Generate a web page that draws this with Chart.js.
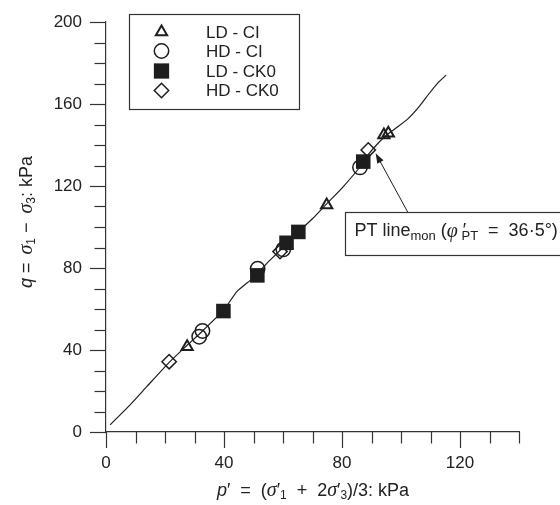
<!DOCTYPE html>
<html>
<head>
<meta charset="utf-8">
<script src="https://cdn.jsdelivr.net/npm/chart.js@4.4.0/dist/chart.umd.min.js"></script>
<style>
  html, body { margin: 0; padding: 0; background: #fff; }
</style>
</head>
<body>
<canvas id="chart" width="560" height="505"></canvas>
<script>
// values, p' and q in kPa
const ldCiP = [27.5, 74.8, 94.2, 95.7];
const ldCiQ = [41.6, 110.7, 144.9, 145.7];
const hdCiP = [31.6, 32.7, 51.4, 60.1, 86.1];
const hdCiQ = [46.5, 49.3, 79.6, 89.1, 129.1];
const ldCk0P = [39.8, 51.3, 61.2, 65.2, 87.2];
const ldCk0Q = [59.0, 76.4, 92.3, 97.6, 131.9];
const hdCk0P = [21.4, 59.0, 88.9];
const hdCk0Q = [34.3, 88.0, 137.6];

// the PT line (monotonic test path)
const lineP = [1.4, 8, 13.8, 21.4, 27.5, 32, 39.8, 44.3, 49.9, 55, 60, 65.2, 70, 74.8, 80, 86.5, 89, 92, 95.1, 99, 102.5, 106, 109.5, 112.5, 115.3];
const lineQ = [3.5, 13, 22.1, 34, 42.3, 48.3, 59.3, 68.4, 75.2, 83, 90, 97.6, 104, 111.3, 119, 130, 135.5, 140.5, 144.9, 149, 153, 158.5, 165, 170.3, 174.1];

const seriesNames = ['LD - CI', 'HD - CI', 'LD - CK0', 'HD - CK0'];
const xLabelTicks = [0, 40, 80, 120];
const yLabelTicks = [0, 40, 80, 120, 160, 200];

// annotation: arrow tip on the line, label box below it
const arrowTip = [91.4, 136];
const arrowTail = [102.3, 107.2];
const noteAnchor = [81, 107.2];

const ink = '#1e1e1e';
const axisInk = '#333';
const sans = '"Liberation Sans", Arial, sans-serif';
const serif = '"Liberation Serif", "Times New Roman", serif';

Chart.defaults.font.family = sans;
Chart.defaults.color = '#222';

function toPoints(xs, ys) {
    return xs.map((x, i) => ({ x: x, y: ys[i] }));
}

function richWidth(ctx, parts) {
    let w = 0;
    parts.forEach(p => {
        ctx.font = p.f;
        if (p.adv !== 0) w += ctx.measureText(p.t).width + (p.gap || 0);
    });
    return w;
}

function drawRich(ctx, parts, x, y) {
    let cx = x;
    parts.forEach(p => {
        ctx.font = p.f;
        ctx.fillText(p.t, cx, y + (p.dy || 0));
        if (p.adv !== 0) cx += ctx.measureText(p.t).width + (p.gap || 0);
    });
}

const fMain = '18px ' + sans;
const fIt = 'italic 18px ' + sans;
const fGreek = 'italic 20px ' + serif;
const fSub = '12px ' + sans;

const yTitle = [
    { t: 'q', f: fIt }, { t: ' = ', f: fMain, gap: 3 }, { t: 'σ', f: fGreek },
    { t: '1', f: fSub, dy: 5 }, { t: ' − ', f: fMain, gap: 4 }, { t: 'σ', f: fGreek },
    { t: '3', f: fSub, dy: 5 }, { t: ': kPa', f: fMain }
];
const xTitle = [
    { t: 'p', f: fIt }, { t: '′', f: fMain }, { t: '  =  (', f: fMain },
    { t: 'σ', f: fGreek }, { t: '′', f: fMain, adv: 0 }, { t: ' 1', f: fSub, dy: 5 },
    { t: '  +  2', f: fMain }, { t: 'σ', f: fGreek }, { t: '′', f: fMain, adv: 0 },
    { t: ' 3', f: fSub, dy: 5 }, { t: ')/3: kPa', f: fMain }
];
const noteText = [
    { t: 'PT line', f: fMain }, { t: 'mon', f: '13px ' + sans, dy: 5 },
    { t: ' (', f: fMain }, { t: 'φ', f: fGreek }, { t: ' ′', f: fMain, adv: 0 },
    { t: ' PT', f: '13px ' + sans, dy: 5 }, { t: '  =  36·5°)', f: fMain }
];

function markerPath(ctx, style, x, y, r) {
    ctx.beginPath();
    if (style === 'triangle') {
        ctx.moveTo(x, y - r);
        ctx.lineTo(x + r * 0.866, y + r * 0.5);
        ctx.lineTo(x - r * 0.866, y + r * 0.5);
        ctx.closePath();
    } else if (style === 'circle') {
        ctx.arc(x, y, r, 0, Math.PI * 2);
    } else if (style === 'rect') {
        ctx.rect(x - r * 0.707, y - r * 0.707, r * 1.414, r * 1.414);
    } else {
        ctx.moveTo(x, y - r);
        ctx.lineTo(x + r, y);
        ctx.lineTo(x, y + r);
        ctx.lineTo(x - r, y);
        ctx.closePath();
    }
}

const decor = {
    id: 'decor',
    afterDraw(chart) {
        const ctx = chart.ctx;
        const xs = chart.scales.x;
        const ys = chart.scales.y;
        const area = chart.chartArea;

        // tick marks, long at labelled values
        ctx.save();
        ctx.strokeStyle = axisInk;
        ctx.lineWidth = 1.2;
        for (let v = 0; v <= 140; v += 10) {
            const px = Math.round(xs.getPixelForValue(v)) + 0.5;
            const len = xLabelTicks.includes(v) ? 16 : 11.5;
            ctx.beginPath();
            ctx.moveTo(px, area.bottom);
            ctx.lineTo(px, area.bottom + len);
            ctx.stroke();
        }
        for (let v = 0; v <= 200; v += 10) {
            const py = Math.round(ys.getPixelForValue(v)) + 0.5;
            const len = yLabelTicks.includes(v) ? 16 : 11.5;
            ctx.beginPath();
            ctx.moveTo(area.left - len, py);
            ctx.lineTo(area.left, py);
            ctx.stroke();
        }

        // axis titles
        ctx.fillStyle = '#222';
        ctx.textBaseline = 'middle';
        ctx.textAlign = 'left';
        let w = richWidth(ctx, xTitle);
        drawRich(ctx, xTitle, 313 - w / 2, 491);
        ctx.translate(27, 222);
        ctx.rotate(-Math.PI / 2);
        w = richWidth(ctx, yTitle);
        drawRich(ctx, yTitle, -w / 2, 0);
        ctx.restore();

        // legend box
        ctx.save();
        ctx.fillStyle = '#fff';
        ctx.fillRect(129.5, 14.5, 170, 95);
        ctx.strokeStyle = axisInk;
        ctx.lineWidth = 1.2;
        ctx.strokeRect(129.5, 14.5, 170, 95);
        const rows = [32, 51, 71, 90.5];
        chart.data.datasets.slice(1).forEach((ds, i) => {
            const my = rows[i];
            markerPath(ctx, ds.pointStyle, 161.5, my, ds.legendRadius);
            if (ds.pointStyle === 'rect') {
                ctx.fillStyle = ink;
                ctx.fill();
            } else {
                ctx.strokeStyle = ink;
                ctx.lineWidth = ds.borderWidth;
                ctx.stroke();
            }
            ctx.fillStyle = '#222';
            ctx.font = '17px ' + sans;
            ctx.textBaseline = 'middle';
            ctx.fillText(ds.label, 206, my + 1);
        });
        ctx.restore();

        // annotation arrow and label
        ctx.save();
        const tx = xs.getPixelForValue(arrowTip[0]);
        const ty = ys.getPixelForValue(arrowTip[1]);
        const sx = xs.getPixelForValue(arrowTail[0]);
        const sy = ys.getPixelForValue(arrowTail[1]);
        const ang = Math.atan2(ty - sy, tx - sx);
        ctx.strokeStyle = ink;
        ctx.fillStyle = ink;
        ctx.lineWidth = 1;
        ctx.beginPath();
        ctx.moveTo(sx, sy);
        ctx.lineTo(tx - Math.cos(ang) * 6, ty - Math.sin(ang) * 6);
        ctx.stroke();
        ctx.beginPath();
        ctx.moveTo(tx, ty);
        ctx.lineTo(tx - Math.cos(ang) * 10 + Math.sin(ang) * 3.5, ty - Math.sin(ang) * 10 - Math.cos(ang) * 3.5);
        ctx.lineTo(tx - Math.cos(ang) * 10 - Math.sin(ang) * 3.5, ty - Math.sin(ang) * 10 + Math.cos(ang) * 3.5);
        ctx.closePath();
        ctx.fill();

        const bx = Math.round(xs.getPixelForValue(noteAnchor[0])) + 0.5;
        const by = Math.round(ys.getPixelForValue(noteAnchor[1])) + 0.5;
        ctx.textBaseline = 'middle';
        ctx.textAlign = 'left';
        w = richWidth(ctx, noteText);
        ctx.fillStyle = '#fff';
        ctx.fillRect(bx, by, w + 20, 43);
        ctx.strokeStyle = axisInk;
        ctx.lineWidth = 1.2;
        ctx.strokeRect(bx, by, w + 20, 43);
        ctx.fillStyle = '#222';
        drawRich(ctx, noteText, bx + 9, by + 19);
        ctx.restore();
    }
};

new Chart(document.getElementById('chart'), {
    type: 'scatter',
    data: {
        datasets: [
            {
                label: 'PT line',
                data: toPoints(lineP, lineQ),
                showLine: true,
                borderColor: ink,
                borderWidth: 1.2,
                tension: 0.15,
                pointRadius: 0
            },
            {
                label: seriesNames[0],
                data: toPoints(ldCiP, ldCiQ),
                pointStyle: 'triangle',
                pointRadius: 6.5,
                legendRadius: 6.5,
                borderWidth: 2,
                borderColor: ink,
                backgroundColor: 'transparent'
            },
            {
                label: seriesNames[1],
                data: toPoints(hdCiP, hdCiQ),
                pointStyle: 'circle',
                pointRadius: 7.2,
                legendRadius: 7.2,
                borderWidth: 1.5,
                borderColor: ink,
                backgroundColor: 'transparent'
            },
            {
                label: seriesNames[2],
                data: toPoints(ldCk0P, ldCk0Q),
                pointStyle: 'rect',
                pointRadius: 10.3,
                legendRadius: 10.8,
                borderWidth: 0,
                borderColor: ink,
                backgroundColor: ink
            },
            {
                label: seriesNames[3],
                data: toPoints(hdCk0P, hdCk0Q),
                pointStyle: 'rectRot',
                pointRadius: 7.2,
                legendRadius: 7.2,
                borderWidth: 1.5,
                borderColor: ink,
                backgroundColor: 'transparent'
            }
        ]
    },
    options: {
        responsive: false,
        animation: false,
        events: [],
        layout: { padding: { top: 22, right: 41, left: 0, bottom: 0 } },
        plugins: {
            legend: { display: false },
            tooltip: { enabled: false }
        },
        scales: {
            x: {
                type: 'linear',
                min: 0,
                max: 140,
                afterFit: scale => { scale.height = 73; },
                grid: { display: false, drawTicks: true, tickLength: 16 },
                border: { display: true, color: axisInk, width: 1.2 },
                ticks: {
                    stepSize: 10,
                    autoSkip: false,
                    maxRotation: 0,
                    padding: 5,
                    font: { size: 17 },
                    callback: v => xLabelTicks.includes(v) ? v : ''
                }
            },
            y: {
                type: 'linear',
                min: 0,
                max: 200,
                afterFit: scale => { scale.width = 106; },
                grid: { display: false, drawTicks: true, tickLength: 16 },
                border: { display: true, color: axisInk, width: 1.2 },
                ticks: {
                    stepSize: 10,
                    autoSkip: false,
                    padding: 8,
                    font: { size: 17 },
                    callback: v => yLabelTicks.includes(v) ? v : ''
                }
            }
        }
    },
    plugins: [decor]
});
</script>
</body>
</html>
